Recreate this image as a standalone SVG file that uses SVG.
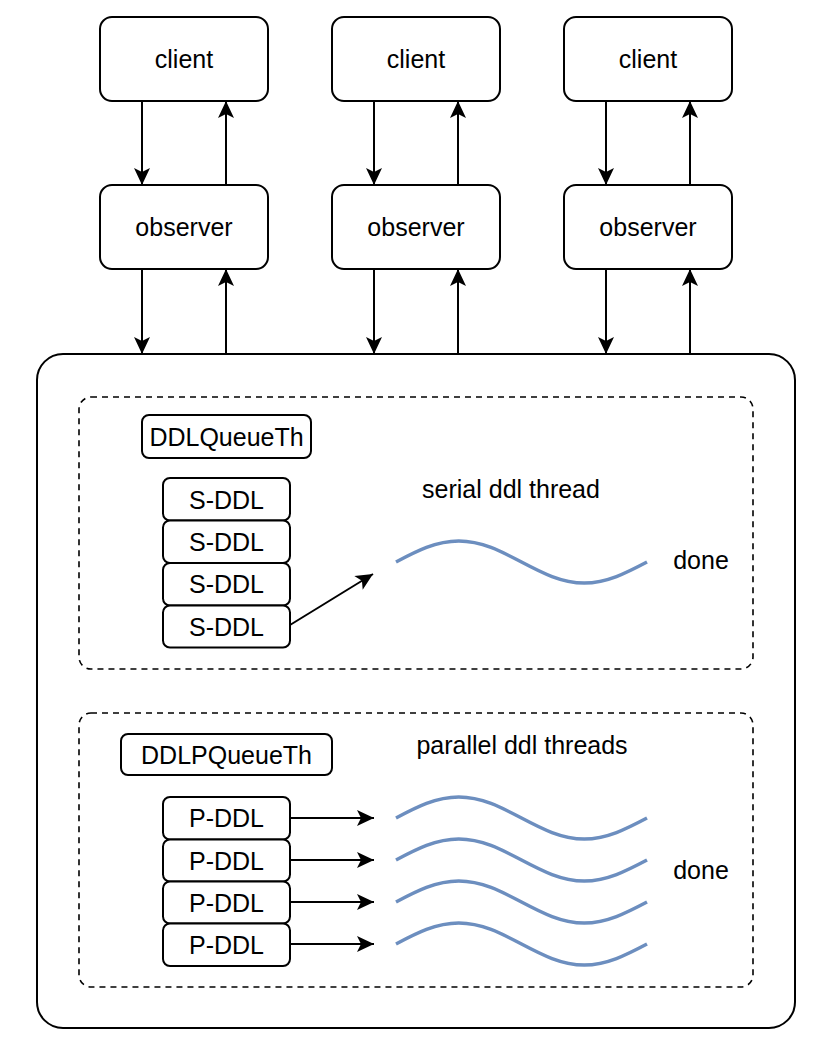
<svg xmlns="http://www.w3.org/2000/svg" xmlns:xlink="http://www.w3.org/1999/xlink" width="830" height="1058" viewBox="0 0 830 1058">
<style>
  .box { fill: #ffffff; stroke: #000000; stroke-width: 2; }
  .dash { fill: none; stroke: #000000; stroke-width: 1.6; stroke-dasharray: 6 5; }
  .lbl { font-family: "Liberation Sans", Arial, Helvetica, sans-serif; font-size: 25px; fill: #000000; text-anchor: middle; dominant-baseline: central; }
  .edge { fill: none; stroke: #000000; stroke-width: 2; marker-end: url(#arrow); }
  .wave { fill: none; stroke: #6c8ebf; stroke-width: 3.5; }
</style>
<defs>
  <marker id="arrow" markerUnits="userSpaceOnUse" markerWidth="20" markerHeight="20" viewBox="-18 -9 20 18" refX="0" refY="0" orient="auto">
    <path d="M0,0 L-17,-8 L-13,0 L-17,8 Z" fill="#000000"/>
  </marker>
  <path id="wv" d="M0,0 C20.5,-10.8 40,-21 62.75,-21 C85.5,-21 105,-10.8 125.5,0 C146,10.8 165.5,21 188.25,21 C211,21 230.5,10.8 251,0"/>
</defs>

<g id="container">
  <rect class="box" x="37" y="354" width="758" height="674" rx="26"/>
</g>

<g id="serial-group">
  <rect class="dash" x="79" y="397" width="674" height="272" rx="12"/>
</g>
<g id="parallel-group">
  <rect class="dash" x="79" y="713" width="674" height="274" rx="12"/>
</g>

<g id="client1"><rect class="box" x="100" y="17" width="168" height="84" rx="12"/><text class="lbl" x="184" y="59">client</text></g>
<g id="client2"><rect class="box" x="332" y="17" width="168" height="84" rx="12"/><text class="lbl" x="416" y="59">client</text></g>
<g id="client3"><rect class="box" x="564" y="17" width="168" height="84" rx="12"/><text class="lbl" x="648" y="59">client</text></g>

<g id="observer1"><rect class="box" x="100" y="185" width="168" height="84" rx="12"/><text class="lbl" x="184" y="227">observer</text></g>
<g id="observer2"><rect class="box" x="332" y="185" width="168" height="84" rx="12"/><text class="lbl" x="416" y="227">observer</text></g>
<g id="observer3"><rect class="box" x="564" y="185" width="168" height="84" rx="12"/><text class="lbl" x="648" y="227">observer</text></g>

<g id="ddlqueueth"><rect class="box" x="142" y="415" width="169" height="43" rx="7"/><text class="lbl" x="226.5" y="437">DDLQueueTh</text></g>
<g id="sddl1"><rect class="box" x="163" y="478" width="127" height="42.5" rx="7"/><text class="lbl" x="226.5" y="499.5">S-DDL</text></g>
<g id="sddl2"><rect class="box" x="163" y="520.5" width="127" height="42.5" rx="7"/><text class="lbl" x="226.5" y="542">S-DDL</text></g>
<g id="sddl3"><rect class="box" x="163" y="563" width="127" height="42.5" rx="7"/><text class="lbl" x="226.5" y="584">S-DDL</text></g>
<g id="sddl4"><rect class="box" x="163" y="605.5" width="127" height="42" rx="7"/><text class="lbl" x="226.5" y="626.5">S-DDL</text></g>

<g id="serial-label"><text class="lbl" x="511" y="489">serial ddl thread</text></g>
<g id="serial-wave"><use href="#wv" xlink:href="#wv" class="wave" transform="translate(396,562)"/></g>
<g id="serial-done"><text class="lbl" x="701" y="560">done</text></g>

<g id="ddlpqueueth"><rect class="box" x="121" y="734" width="211" height="41" rx="7"/><text class="lbl" x="226.5" y="754.5">DDLPQueueTh</text></g>
<g id="pddl1"><rect class="box" x="163" y="797" width="127" height="42.5" rx="7"/><text class="lbl" x="226.5" y="818">P-DDL</text></g>
<g id="pddl2"><rect class="box" x="163" y="839.5" width="127" height="42" rx="7"/><text class="lbl" x="226.5" y="860.5">P-DDL</text></g>
<g id="pddl3"><rect class="box" x="163" y="881.5" width="127" height="42" rx="7"/><text class="lbl" x="226.5" y="902.5">P-DDL</text></g>
<g id="pddl4"><rect class="box" x="163" y="923.5" width="127" height="42.5" rx="7"/><text class="lbl" x="226.5" y="944.5">P-DDL</text></g>

<g id="parallel-label"><text class="lbl" x="522" y="745">parallel ddl threads</text></g>
<g id="parallel-waves">
  <use href="#wv" xlink:href="#wv" class="wave" transform="translate(396,818)"/>
  <use href="#wv" xlink:href="#wv" class="wave" transform="translate(396,860)"/>
  <use href="#wv" xlink:href="#wv" class="wave" transform="translate(396,902)"/>
  <use href="#wv" xlink:href="#wv" class="wave" transform="translate(396,944)"/>
</g>
<g id="parallel-done"><text class="lbl" x="701" y="870">done</text></g>

<g id="connectors">
  <path class="edge" d="M142,101 V185"/>
  <path class="edge" d="M226,185 V101"/>
  <path class="edge" d="M374,101 V185"/>
  <path class="edge" d="M458,185 V101"/>
  <path class="edge" d="M606,101 V185"/>
  <path class="edge" d="M690,185 V101"/>
  <path class="edge" d="M142,269 V354"/>
  <path class="edge" d="M226,354 V269"/>
  <path class="edge" d="M374,269 V354"/>
  <path class="edge" d="M458,354 V269"/>
  <path class="edge" d="M606,269 V354"/>
  <path class="edge" d="M690,354 V269"/>
  <path class="edge" d="M290,625 L373,574"/>
  <path class="edge" d="M290,818 H374"/>
  <path class="edge" d="M290,860 H374"/>
  <path class="edge" d="M290,902 H374"/>
  <path class="edge" d="M290,944 H374"/>
</g>
</svg>
